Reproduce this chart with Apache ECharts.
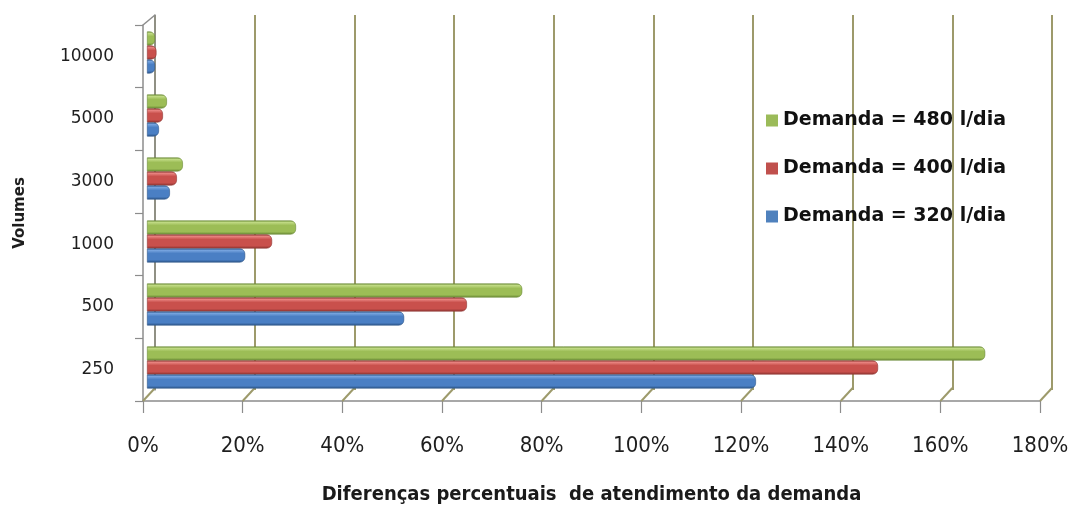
<!DOCTYPE html>
<html>
<head>
<meta charset="utf-8">
<script src="https://cdn.jsdelivr.net/npm/echarts@6/dist/echarts.min.js"></script>
<style>
  html, body { margin: 0; padding: 0; background: #ffffff; }
  #chart { width: 1072px; height: 510px; }
</style>
</head>
<body>
<div id="chart"></div>
<script>
// Reservoir volumes (litres) on the category axis, bottom to top
const volumes = ['250', '500', '1000', '3000', '5000', '10000'];

// Percentage differences in meeting demand (fractions of 1)
const demanda320 = [1.222, 0.516, 0.197, 0.046, 0.024, 0.016];
const demanda400 = [1.467, 0.642, 0.251, 0.060, 0.032, 0.019];
const demanda480 = [1.682, 0.753, 0.299, 0.072, 0.040, 0.016];

const seriesNames = ['Demanda = 320 l/dia', 'Demanda = 400 l/dia', 'Demanda = 480 l/dia'];
const percentTicks = [0, 0.2, 0.4, 0.6, 0.8, 1.0, 1.2, 1.4, 1.6, 1.8];

const wallColor = '#9d9a6b';
const axisColor = '#8c8c8c';

// Cylinder-like shading for each bar colour
function cylinder(light, base, dark) {
  return new echarts.graphic.LinearGradient(0, 0, 0, 1, [
    { offset: 0, color: dark },
    { offset: 0.12, color: light },
    { offset: 0.35, color: base },
    { offset: 0.8, color: base },
    { offset: 1, color: dark }
  ]);
}

function barSeries(name, values, light, base, dark) {
  return {
    name: name, type: 'bar', xAxisIndex: 2, yAxisIndex: 2,
    data: values, barWidth: 14, barGap: '0%',
    itemStyle: {
      color: cylinder(light, base, dark),
      borderRadius: [0, 5, 5, 0], borderColor: dark, borderWidth: 0.6
    }
  };
}

const chart = echarts.init(document.getElementById('chart'), null, { renderer: 'canvas' });

const pctFmt = v => Math.round(v * 100) + '%';

chart.setOption({
  animation: false,
  backgroundColor: '#ffffff',
  textStyle: { fontFamily: 'DejaVu Sans' },
  grid: [
    // back wall
    { left: 155, top: 15, width: 897, height: 375 },
    // front edge of the floor and the left wall
    { left: 143, top: 25, width: 897, height: 378 },
    // plane of the bars
    { left: 147, top: 21, width: 897, height: 378 }
  ],
  xAxis: [
    {
      gridIndex: 0, type: 'value', min: 0, max: 1.8, interval: 0.2,
      axisLine: { show: false }, axisTick: { show: false }, axisLabel: { show: false },
      splitLine: { show: true, lineStyle: { color: wallColor, width: 2 } }
    },
    {
      gridIndex: 1, type: 'value', min: 0, max: 1.8, interval: 0.2,
      axisLine: { show: true, lineStyle: { color: axisColor, width: 1.5 } },
      axisTick: { show: true, length: 12, lineStyle: { color: axisColor, width: 1.2 } },
      axisLabel: {
        show: true, margin: 34, formatter: pctFmt,
        fontFamily: 'DejaVu Sans Condensed', fontSize: 22, color: '#1e1e1e'
      },
      splitLine: { show: false },
      name: 'Diferenças percentuais  de atendimento da demanda',
      nameLocation: 'middle', nameGap: 84,
      nameTextStyle: {
        fontFamily: 'DejaVu Sans Condensed', fontWeight: 'bold', fontSize: 20, color: '#1a1a1a'
      }
    },
    {
      gridIndex: 2, type: 'value', min: 0, max: 1.8, interval: 0.2, show: false
    }
  ],
  yAxis: [
    {
      gridIndex: 0, type: 'category', data: volumes,
      axisLine: { show: true, lineStyle: { color: axisColor, width: 1.5 } },
      axisTick: { show: false }, axisLabel: { show: false }, splitLine: { show: false }
    },
    {
      gridIndex: 1, type: 'category', data: volumes,
      axisLine: { show: true, lineStyle: { color: axisColor, width: 1.5 } },
      axisTick: { show: true, length: 8, lineStyle: { color: axisColor, width: 1.2 } },
      axisLabel: { show: true, margin: 29, fontFamily: 'DejaVu Sans', fontSize: 17, color: '#1e1e1e' },
      splitLine: { show: false },
      name: 'Volumes', nameLocation: 'middle', nameGap: 115, nameRotate: 90,
      nameTextStyle: { fontFamily: 'DejaVu Sans', fontWeight: 'bold', fontSize: 15, color: '#1e1e1e' }
    },
    {
      gridIndex: 2, type: 'category', data: volumes, show: false
    }
  ],
  legend: {
    orient: 'vertical', left: 761, top: 106, itemGap: 29,
    itemWidth: 12, itemHeight: 12, icon: 'rect',
    textStyle: { fontFamily: 'DejaVu Sans', fontWeight: 'bold', fontSize: 19, color: '#111111' },
    data: [
      { name: seriesNames[2], itemStyle: { color: '#9bbb59', borderWidth: 0 } },
      { name: seriesNames[1], itemStyle: { color: '#c0504d', borderWidth: 0 } },
      { name: seriesNames[0], itemStyle: { color: '#4f81bd', borderWidth: 0 } }
    ]
  },
  series: [
    // listed top to bottom within each volume group
    barSeries(seriesNames[2], demanda480, '#c2dc86', '#9cbd56', '#6a8a35'),
    barSeries(seriesNames[1], demanda400, '#ea8683', '#c9504c', '#8e3532'),
    barSeries(seriesNames[0], demanda320, '#79a6e0', '#4a7fc4', '#2d5689'),
    {
      // slanted floor edges joining the front ticks to the back gridlines
      type: 'custom', xAxisIndex: 1, yAxisIndex: 1, silent: true, z: 1,
      data: percentTicks.map(v => [v, 0]),
      renderItem: function (params, api) {
        const p = api.coord([api.value(0), 0]);
        const cs = params.coordSys;
        const yb = cs.y + cs.height;
        return {
          type: 'line',
          shape: { x1: p[0], y1: yb, x2: p[0] + 12, y2: yb - 13 },
          style: { stroke: wallColor, lineWidth: 2 }
        };
      }
    },
    {
      // top corner of the left wall
      type: 'custom', xAxisIndex: 1, yAxisIndex: 1, silent: true, z: 1,
      data: [[0, 5]],
      renderItem: function (params, api) {
        const cs = params.coordSys;
        return {
          type: 'line',
          shape: { x1: cs.x, y1: cs.y, x2: cs.x + 12, y2: cs.y - 10 },
          style: { stroke: axisColor, lineWidth: 1.5 }
        };
      }
    }
  ]
});
</script>
</body>
</html>
